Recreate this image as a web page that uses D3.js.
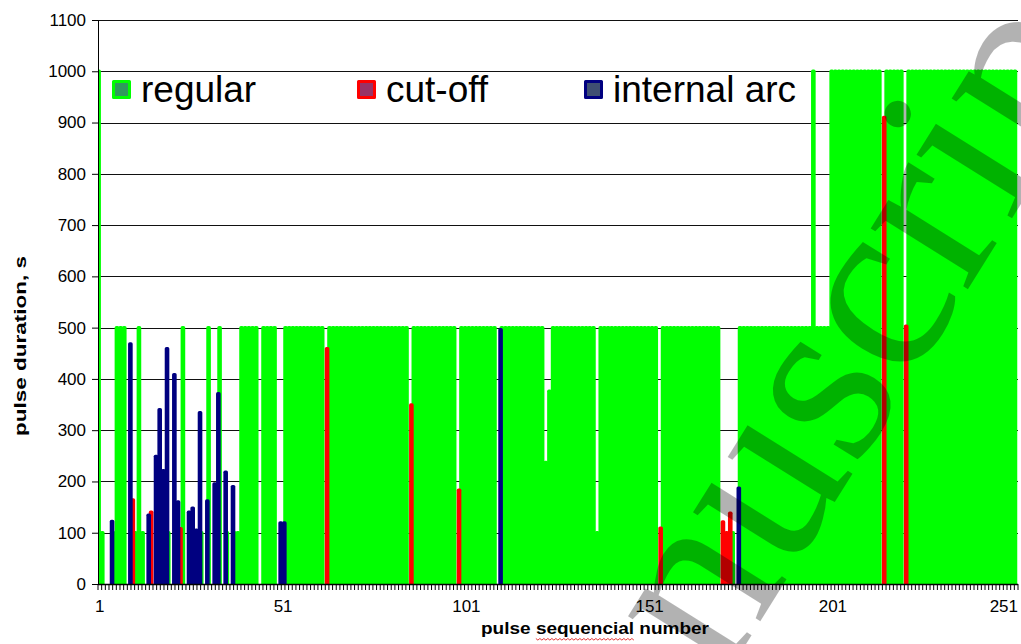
<!DOCTYPE html>
<html>
<head>
<meta charset="utf-8">
<script src="https://cdn.jsdelivr.net/npm/d3@7"></script>
<style>
  html, body { margin: 0; padding: 0; background: #fff; }
  svg { display: block; font-family: "Liberation Sans", Arial, sans-serif; }
</style>
</head>
<body>
<svg id="chart" width="1021" height="644"></svg>
<script>
// Duration of every pulse (s), pulse 1 .. 251
const pulseDurations = [
  1000, 100, 0, 122, 100, 500, 500, 500, 468, 164,
  100, 500, 100, 134, 140, 249, 340, 221, 459, 100,
  408, 160, 108, 500, 140, 148, 105, 334, 100, 162,
  500, 195, 371, 500, 218, 100, 190, 100, 100, 500,
  500, 500, 500, 500, 0, 500, 500, 500, 500, 119,
  119, 500, 500, 500, 500, 500, 500, 500, 500, 500,
  500, 500, 459, 500, 500, 500, 500, 500, 500, 500,
  500, 500, 500, 500, 500, 500, 500, 500, 500, 500,
  500, 500, 500, 500, 500, 349, 500, 500, 500, 500,
  500, 500, 500, 500, 500, 500, 500, 500, 183, 500,
  500, 500, 500, 500, 500, 500, 500, 500, 500, 496,
  500, 500, 500, 500, 500, 500, 500, 500, 500, 500,
  500, 500, 237, 376, 500, 500, 500, 500, 500, 500,
  500, 500, 500, 500, 500, 500, 100, 500, 500, 500,
  500, 500, 500, 500, 500, 500, 500, 500, 500, 500,
  500, 500, 500, 109, 500, 500, 500, 500, 500, 500,
  500, 500, 500, 500, 500, 500, 500, 500, 500, 500,
  121, 100, 138, 100, 187, 500, 500, 500, 500, 500,
  500, 500, 500, 500, 500, 500, 500, 500, 500, 500,
  500, 500, 500, 500, 500, 1000, 500, 500, 500, 500,
  1000, 1000, 1000, 1000, 1000, 1000, 1000, 1000, 1000, 1000,
  1000, 1000, 1000, 1000, 910, 1000, 1000, 1000, 1000, 1000,
  503, 1000, 1000, 1000, 1000, 1000, 1000, 1000, 1000, 1000,
  1000, 1000, 1000, 1000, 1000, 1000, 1000, 1000, 1000, 1000,
  1000, 1000, 1000, 1000, 1000, 1000, 1000, 1000, 1000, 1000,
  1000
];

// Outcome of every pulse: R = regular, C = cut-off, A = internal arc, - = none
const pulseKinds = (
  "RR-ARRRRAC" + "RRRACAAAAR" + "AACRAAAARA" + "RAARARARRR" + "RRRR-RRRRA" +
  "ARRRRRRRRR" + "RRCRRRRRRR" + "RRRRRRRRRR" + "RRRRRCRRRR" + "RRRRRRRRCR" +
  "RRRRRRRRRA" + "RRRRRRRRRR" + "RRRRRRRRRR" + "RRRRRRRRRR" + "RRRRRRRRRR" +
  "RRRCRRRRRR" + "RRRRRRRRRR" + "CCCRARRRRR" + "RRRRRRRRRR" + "RRRRRRRRRR" +
  "RRRRRRRRRR" + "RRRRCRRRRR" + "CRRRRRRRRR" + "RRRRRRRRRR" + "RRRRRRRRRR" +
  "R"
).split("");

const seriesCodes  = ["R", "C", "A"];
const seriesNames  = ["regular", "cut-off", "internal arc"];
const seriesStroke = ["#00ff00", "#ff0000", "#000080"];
const seriesFill   = ["#2f9a5c", "#993366", "#3f4f72"];

const yTickValues = [0, 100, 200, 300, 400, 500, 600, 700, 800, 900, 1000, 1100];
const xTickLabels = [1, 51, 101, 151, 201, 251];

const yTitle = "pulse duration, s";
const xTitle = "pulse sequencial number";
const stampText = "Accepted Manuscript";

// ---- layout ----
const plot = { left: 98, right: 1018, top: 20, bottom: 584 };
const svg = d3.select("#chart");

const pulses = d3.range(1, pulseDurations.length + 1);
const x = d3.scaleBand().domain(pulses).range([plot.left, plot.right]).padding(0);
const xs = d3.scaleBand().domain(seriesCodes).range([0, x.bandwidth()]).padding(0);
const y = d3.scaleLinear().domain([0, 1100]).range([plot.bottom, plot.top]);

svg.append("defs").append("clipPath").attr("id", "plotClip")
  .append("rect")
  .attr("x", plot.left).attr("y", plot.top - 6)
  .attr("width", plot.right - plot.left)
  .attr("height", plot.bottom - plot.top + 6.5);

// horizontal gridlines
svg.append("g")
  .selectAll("line")
  .data(yTickValues.filter(v => v > 0))
  .join("line")
  .attr("x1", plot.left).attr("x2", plot.right)
  .attr("y1", d => Math.round(y(d)) + 0.5)
  .attr("y2", d => Math.round(y(d)) + 0.5)
  .attr("stroke", "#111").attr("stroke-width", 1);

// columns: one narrow column per series inside each pulse slot
const gBars = svg.append("g").attr("clip-path", "url(#plotClip)");
seriesCodes.forEach((code, k) => {
  const rows = pulses
    .filter(p => pulseKinds[p - 1] === code)
    .map(p => ({ pulse: p, value: pulseDurations[p - 1] }));
  gBars.append("g")
    .selectAll("rect")
    .data(rows)
    .join("rect")
    .attr("x", d => x(d.pulse) + xs(code))
    .attr("width", xs.bandwidth())
    .attr("y", d => y(d.value))
    .attr("height", d => y(0) - y(d.value))
    .attr("fill", seriesFill[k])
    .attr("stroke", seriesStroke[k])
    .attr("stroke-width", 3.4)
    .attr("stroke-linejoin", "round");
});

// y axis
const yAxis = d3.axisLeft(y).tickValues(yTickValues).tickFormat(d3.format("d"))
  .tickSize(6).tickPadding(6).tickSizeOuter(0);
const gY = svg.append("g").attr("transform", `translate(${plot.left},0)`).call(yAxis);
gY.select(".domain").attr("stroke", "#000");
gY.selectAll(".tick line").attr("stroke", "#000");
gY.selectAll("text").attr("font-size", 17).attr("fill", "#000")
  .attr("font-family", "'Liberation Sans', Arial, sans-serif");

// x axis: a tick at every slot boundary, labels every 50 pulses
const boundaries = pulses.map(p => x(p)).concat([plot.right]);
svg.append("g")
  .selectAll("line")
  .data(boundaries)
  .join("line")
  .attr("x1", d => d).attr("x2", d => d)
  .attr("y1", plot.bottom).attr("y2", plot.bottom + 6)
  .attr("stroke", "#000").attr("stroke-width", 1);

svg.append("line")
  .attr("x1", plot.left).attr("x2", plot.right)
  .attr("y1", plot.bottom + 0.5).attr("y2", plot.bottom + 0.5)
  .attr("stroke", "#000").attr("stroke-width", 1.5);

const xAxis = d3.axisBottom(x).tickValues(xTickLabels).tickSize(0).tickPadding(16);
const gX = svg.append("g").attr("transform", `translate(0,${plot.bottom})`).call(xAxis);
gX.select(".domain").remove();
gX.selectAll("text").attr("font-size", 17).attr("fill", "#000")
  .attr("font-family", "'Liberation Sans', Arial, sans-serif");
// keep the last label inside the chart
gX.selectAll(".tick").each(function () {
  const t = d3.select(this).select("text");
  const box = this.getBBox();
  const m = this.transform.baseVal.consolidate().matrix;
  const right = m.e + box.x + box.width;
  if (right > plot.right) t.attr("x", plot.right - right);
});

// axis titles
svg.append("text")
  .attr("transform", `translate(26,346) rotate(-90)`)
  .attr("text-anchor", "middle")
  .attr("font-size", 17).attr("font-weight", "bold")
  .attr("textLength", 180).attr("lengthAdjust", "spacingAndGlyphs")
  .text(yTitle);

const xt = svg.append("text")
  .attr("x", 595).attr("y", 634)
  .attr("text-anchor", "middle")
  .attr("font-size", 17).attr("font-weight", "bold")
  .attr("textLength", 228).attr("lengthAdjust", "spacingAndGlyphs")
  .text(xTitle);

// spell-check squiggle under the misspelt word
(function () {
  const node = xt.node();
  const start = xTitle.indexOf("sequencial");
  const a = node.getStartPositionOfChar(start).x;
  const b = node.getEndPositionOfChar(start + "sequencial".length - 1).x;
  const yb = 639;
  const pts = [];
  for (let px = a, i = 0; px <= b; px += 2, i++) pts.push([px, yb + (i % 2 ? 1.1 : -0.5)]);
  svg.append("path").attr("d", d3.line()(pts))
    .attr("fill", "none").attr("stroke", "#e02020").attr("stroke-width", 0.9);
})();

// legend
const legendX = [112, 357, 584];
const gL = svg.append("g");
seriesNames.forEach((name, k) => {
  gL.append("rect")
    .attr("x", legendX[k] + 1.5).attr("y", 81.5)
    .attr("width", 16).attr("height", 16)
    .attr("fill", seriesFill[k]).attr("stroke", seriesStroke[k])
    .attr("stroke-width", 3).attr("stroke-linejoin", "round");
  gL.append("text")
    .attr("x", legendX[k] + 29).attr("y", 102)
    .attr("font-size", 37).attr("fill", "#000")
    .text(name);
});

// diagonal stamp across the page
(function () {
  const fs = 250, ang = -58, rad = ang * Math.PI / 180;
  const stamp = svg.append("text")
    .attr("font-family", "'Liberation Serif', 'Times New Roman', serif")
    .attr("font-size", fs)
    .attr("fill", "#000").attr("fill-opacity", 0.3)
    .style("pointer-events", "none")
    .text(stampText);
  const idx = stampText.indexOf("c", 10);
  const ext = stamp.node().getExtentOfChar(idx);
  const cx = ext.x + ext.width / 2, cy = -0.23 * fs;
  const rx = cx * Math.cos(rad) - cy * Math.sin(rad);
  const ry = cx * Math.sin(rad) + cy * Math.cos(rad);
  stamp.attr("transform", `translate(${887 - rx},${310 - ry}) rotate(${ang})`);
})();
</script>
</body>
</html>
